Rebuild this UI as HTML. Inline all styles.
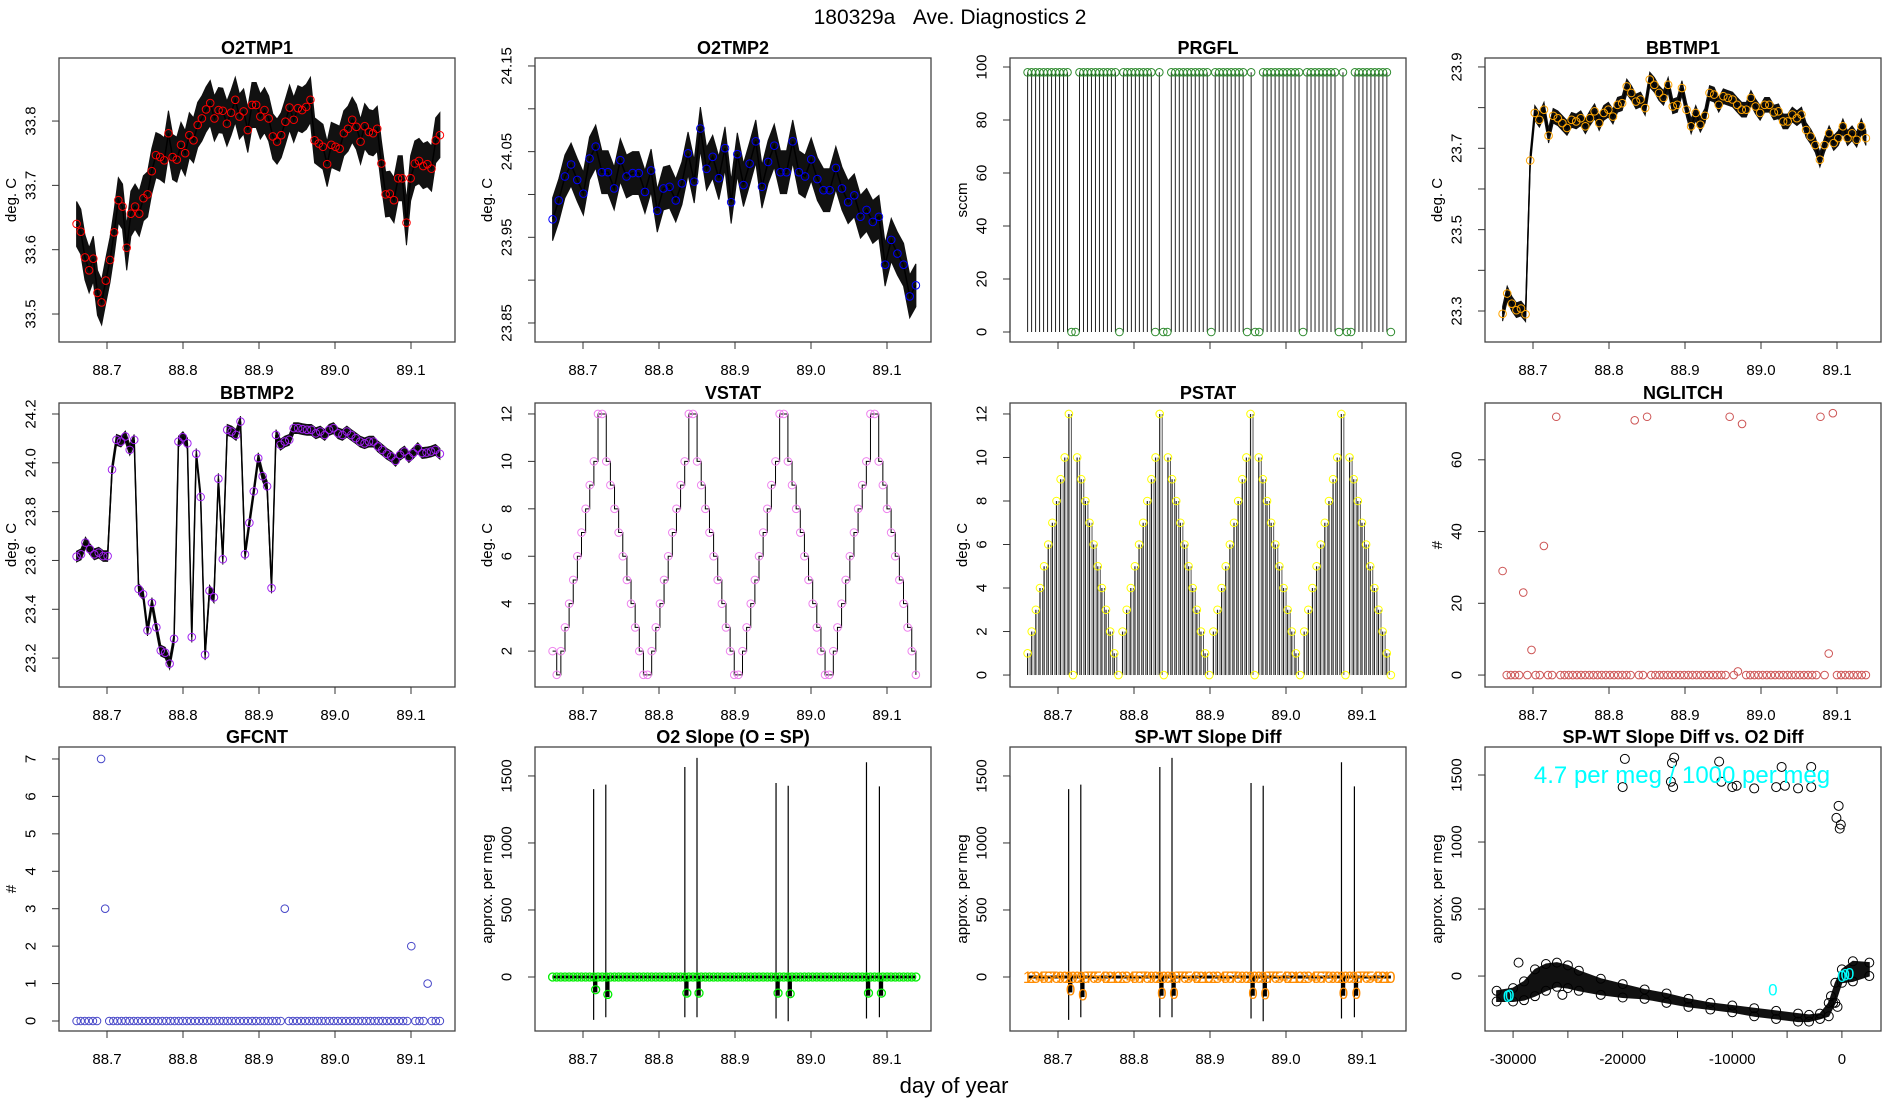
<!DOCTYPE html>
<html><head><meta charset="utf-8"><title>180329a Ave. Diagnostics 2</title>
<style>
html,body{margin:0;padding:0;background:#fff;}
svg{display:block;font-family:"Liberation Sans",Arial,sans-serif;}
</style></head>
<body>
<svg id="chart" xmlns="http://www.w3.org/2000/svg" width="1900" height="1100" viewBox="0 0 1900 1100">
<rect x="0" y="0" width="1900" height="1100" fill="#fff"/>
<text x="950" y="24" text-anchor="middle" font-size="21" style="white-space:pre">180329a&#160;&#160;&#160;Ave. Diagnostics 2</text>
<text x="954" y="1093" text-anchor="middle" font-size="22">day of year</text>
</svg>
<script>
// ---------- data ----------
const timeStart = 88.660;
const timeEnd = 89.138;
const timeTicks = [88.7, 88.8, 88.9, 89.0, 89.1];
const timeTickLabels = ["88.7", "88.8", "88.9", "89.0", "89.1"];

const o2tmp1 = [33.640,33.628,33.588,33.568,33.586,33.533,33.518,33.552,33.584,33.627,33.677,33.667,33.603,33.656,33.667,33.656,33.680,33.686,33.722,33.747,33.744,33.739,33.781,33.744,33.740,33.763,33.750,33.778,33.770,33.794,33.804,33.818,33.828,33.804,33.817,33.816,33.796,33.813,33.833,33.807,33.815,33.786,33.825,33.825,33.807,33.817,33.804,33.776,33.768,33.778,33.799,33.821,33.802,33.820,33.817,33.822,33.833,33.770,33.765,33.760,33.733,33.763,33.760,33.757,33.781,33.788,33.802,33.791,33.768,33.792,33.783,33.781,33.788,33.734,33.686,33.687,33.677,33.711,33.711,33.642,33.711,33.734,33.738,33.730,33.733,33.726,33.770,33.778];
const o2tmp2 = [23.971,23.993,24.021,24.035,24.017,24.001,24.042,24.056,24.026,24.026,24.007,24.040,24.021,24.025,24.025,24.003,24.028,23.981,24.007,24.009,23.993,24.013,24.048,24.015,24.077,24.030,24.044,24.019,24.054,23.991,24.047,24.011,24.036,24.062,24.009,24.038,24.057,24.026,24.026,24.062,24.026,24.021,24.041,24.018,24.005,24.005,24.031,24.007,23.991,23.999,23.974,23.982,23.968,23.974,23.918,23.947,23.931,23.918,23.881,23.894];
const prgfl = [98,98,98,98,98,98,98,98,98,98,98,0,0,98,98,98,98,98,98,98,98,98,98,0,98,98,98,98,98,98,98,98,0,98,0,0,98,98,98,98,98,98,98,98,98,98,0,98,98,98,98,98,98,98,98,0,98,0,0,98,98,98,98,98,98,98,98,98,98,0,98,98,98,98,98,98,98,98,0,98,0,0,98,98,98,98,98,98,98,98,98,0];
const bbtmp1 = [23.293,23.343,23.318,23.302,23.306,23.292,23.670,23.787,23.770,23.795,23.731,23.780,23.774,23.762,23.750,23.770,23.766,23.774,23.754,23.774,23.791,23.762,23.787,23.795,23.778,23.807,23.811,23.852,23.836,23.815,23.820,23.799,23.869,23.856,23.836,23.824,23.856,23.803,23.807,23.848,23.795,23.754,23.787,23.758,23.780,23.836,23.832,23.807,23.828,23.824,23.820,23.807,23.795,23.795,23.824,23.803,23.787,23.807,23.807,23.788,23.791,23.766,23.766,23.783,23.774,23.783,23.745,23.729,23.708,23.672,23.708,23.737,23.713,23.725,23.754,23.725,23.737,23.721,23.754,23.725];
const bbtmp2 = [23.616,23.625,23.673,23.646,23.625,23.632,23.618,23.618,23.972,24.094,24.087,24.108,24.053,24.094,23.483,23.462,23.313,23.426,23.326,23.231,23.222,23.177,23.279,24.087,24.105,24.080,23.286,24.037,23.860,23.214,23.476,23.449,23.935,23.605,24.135,24.128,24.114,24.169,23.625,23.754,23.883,24.019,23.945,23.904,23.487,24.114,24.074,24.087,24.094,24.142,24.142,24.138,24.135,24.135,24.121,24.128,24.114,24.135,24.142,24.121,24.114,24.128,24.114,24.101,24.087,24.080,24.087,24.087,24.067,24.053,24.037,24.026,24.008,24.033,24.046,24.023,24.040,24.060,24.040,24.042,24.046,24.053,24.037];
const vstat = [2,1,2,3,4,5,6,7,8,9,10,12,12,10,9,8,7,6,5,4,3,2,1,
 1,2,3,4,5,6,7,8,9,10,12,12,10,9,8,7,6,5,4,3,2,1,
 1,2,3,4,5,6,7,8,9,10,12,12,10,9,8,7,6,5,4,3,2,1,
 1,2,3,4,5,6,7,8,9,10,12,12,10,9,8,7,6,5,4,3,2,1];
const pstat = [1,2,3,4,5,6,7,8,9,10,12,0,10,9,8,7,6,5,4,3,2,1,0,
 2,3,4,5,6,7,8,9,10,12,0,10,9,8,7,6,5,4,3,2,1,0,
 2,3,4,5,6,7,8,9,10,12,0,10,9,8,7,6,5,4,3,2,1,0,
 2,3,4,5,6,7,8,9,10,12,0,10,9,8,7,6,5,4,3,2,1,0];
const nglitch = [29,0,0,0,0,23,0,7,0,0,36,0,0,72,0,0,0,0,0,0,0,0,0,0,0,0,0,0,0,0,0,0,71,0,0,72,0,0,0,0,0,0,0,0,0,0,0,0,0,0,0,0,0,0,0,72,0,1,70,0,0,0,0,0,0,0,0,0,0,0,0,0,0,0,0,0,0,72,0,6,73,0,0,0,0,0,0,0,0];
const gfcnt = [0,0,0,0,0,0,7,3,0,0,0,0,0,0,0,0,0,0,0,0,0,0,0,0,0,0,0,0,0,0,0,0,0,0,0,0,0,0,0,0,0,0,0,0,0,0,0,0,0,0,0,3,0,0,0,0,0,0,0,0,0,0,0,0,0,0,0,0,0,0,0,0,0,0,0,0,0,0,0,0,0,0,2,0,0,0,1,0,0,0];
const spikeTimes = [88.714,88.730,88.834,88.850,88.954,88.970,89.073,89.090];
const spikeHigh = [1402,1435,1567,1635,1447,1427,1602,1422];
const spikeLow = [-320,-300,-300,-300,-310,-330,-310,-300];
const dipValues = [-95,-130,-120,-120,-120,-125,-120,-120];
const slopeBase = 0;
const scatterBandX = [-31500,-30000,-29000,-28000,-27000,-26000,-25000,-24000,-22000,-20000,-18000,-16000,-14000,-12000,-10000,-8000,-6000,-4000,-3000,-2000,-1200,-600,0,1000,2500];
const scatterBandUpper = [-110,-90,-40,50,90,100,80,40,-20,-60,-100,-130,-170,-200,-220,-240,-260,-280,-290,-280,-200,-50,50,110,100];
const scatterBandLower = [-190,-190,-180,-150,-110,-80,-90,-110,-140,-160,-170,-200,-230,-250,-270,-300,-320,-340,-340,-320,-300,-200,-50,-40,0];
const outlierX = [-20000,-19800,-15500,-15300,-15600,-15400,-11200,-11000,-10000,-9600,-8000,-6000,-5500,-5200,-4000,-2800,-2800,-500,-300,-200,-100,-29500,-25500,-1000,-800,-400];
const outlierY = [1410,1620,1590,1630,1450,1410,1600,1450,1410,1420,1400,1410,1560,1420,1400,1560,1410,1180,1270,1100,1130,100,-140,-150,-200,-230];
const cyanX = [-30500,-30300,-6300,0,300,700];
const cyanY = [-150,-140,-100,0,10,20];

// ---------- drawing ----------
const NS = "http://www.w3.org/2000/svg";
const svg = document.getElementById("chart");
function el(tag, attrs, parent) {
  const e = document.createElementNS(NS, tag);
  for (const k in attrs) e.setAttribute(k, attrs[k]);
  (parent || svg).appendChild(e);
  return e;
}
const colLeft = [59, 535, 1010, 1485];
const rowTop = [58, 403, 747];
const W = 396, H = 284;

function makePanel(key, title, col, row, yLo, yHi, yTicks, yLabelShow, ylab, xLo, xHi) {
  const left = colLeft[col], top = rowTop[row], bottom = top + H, right = left + W;
  const g = el("g", {});
  
  
  const x = xLo === undefined ? (t => left + 48 + (t - 88.7) * 760) : (v => left + (v - xLo) / (xHi - xLo) * W);
  const y = v => bottom - (v - yLo) / (yHi - yLo) * H;
  const t = el("text", {x: left + W / 2, y: top - 4, "text-anchor": "middle", "font-size": 18, "font-weight": "bold"}, g);
  t.textContent = title;
  
  
  const box = el("rect", {x: left, y: top, width: W, height: H, fill: "none", stroke: "#444", "stroke-width": 1.3}, g);
  
  
  const ya = el("g", {}, g);
  
  
  el("line", {x1: left, x2: left, y1: y(yTicks[0]), y2: y(yTicks[yTicks.length - 1]), stroke: "#333"}, ya);
  yTicks.forEach((v, i) => {
    el("line", {x1: left - 7, x2: left, y1: y(v), y2: y(v), stroke: "#333"}, ya);
    if (yLabelShow[i]) {
      const lb = el("text", {x: 0, y: 0, "text-anchor": "middle", "font-size": 15, transform: `translate(${left - 23.5},${y(v)}) rotate(-90)`}, ya);
      lb.textContent = yLabelShow[i];
      
      
    }
  });
  const yl = el("text", {x: 0, y: 0, "text-anchor": "middle", "font-size": 15, transform: `translate(${left - 43},${top + H / 2}) rotate(-90)`}, g);
  yl.textContent = ylab;
  
  
  return {g, x, y, left, top, bottom, right};
}
function timeAxis(p, key, ticks, labels) {
  const xa = el("g", {}, p.g);
  
  
  el("line", {x1: p.x(ticks[0]), x2: p.x(ticks[ticks.length - 1]), y1: p.bottom, y2: p.bottom, stroke: "#333"}, xa);
  ticks.forEach((v, i) => {
    el("line", {x1: p.x(v), x2: p.x(v), y1: p.bottom, y2: p.bottom + 7, stroke: "#333"}, xa);
    if (labels[i]) {
      const lb = el("text", {x: p.x(v), y: p.bottom + 33, "text-anchor": "middle", "font-size": 15}, xa);
      lb.textContent = labels[i];
      
      
    }
  });
}
function tAt(i, n) { return timeStart + i * (timeEnd - timeStart) / (n - 1); }
function circles(p, key, vals, color, r) {
  const cg = el("g", {}, p.g);
  
  
  vals.forEach((v, i) => {
    const c = el("circle", {cx: p.x(tAt(i, vals.length)), cy: p.y(v), r: r || 3.8, fill: "none", stroke: color, "stroke-width": 1}, cg);
    
    
  });
}
function ribbon(p, key, vals, spread) {
  const up = vals.map((v, i) => p.x(tAt(i, vals.length)) + "," + p.y(v + spread));
  const lo = vals.map((v, i) => p.x(tAt(i, vals.length)) + "," + p.y(v - spread)).reverse();
  const pg = el("polygon", {points: up.concat(lo).join(" "), fill: "#111", stroke: "#111", "stroke-width": 1}, p.g);
  
  
  const pl = el("polyline", {points: vals.map((v, i) => p.x(tAt(i, vals.length)) + "," + p.y(v)).join(" "), fill: "none", stroke: "#000", "stroke-width": 1.5}, p.g);
  
  
}

// Panel 1 O2TMP1
let p = makePanel("o2tmp1", "O2TMP1", 0, 0, 33.4565, 33.898, [33.5, 33.6, 33.7, 33.8], ["33.5", "33.6", "33.7", "33.8"], "deg. C");
timeAxis(p, "o2tmp1", timeTicks, timeTickLabels);
ribbon(p, "o2tmp1", o2tmp1, 0.035);
circles(p, "o2tmp1", o2tmp1, "#ff0000");

// Panel 2 O2TMP2
p = makePanel("o2tmp2", "O2TMP2", 1, 0, 23.8278, 24.1593, [23.85, 23.90, 23.95, 24.00, 24.05, 24.10, 24.15], ["23.85", "", "23.95", "", "24.05", "", "24.15"], "deg. C");
timeAxis(p, "o2tmp2", timeTicks, timeTickLabels);
ribbon(p, "o2tmp2", o2tmp2, 0.025);
circles(p, "o2tmp2", o2tmp2, "#0000ff");

// Panel 3 PRGFL
p = makePanel("prgfl", "PRGFL", 2, 0, -3.77, 103.4, [0, 20, 40, 60, 80, 100], ["0", "20", "40", "60", "80", "100"], "sccm");
timeAxis(p, "prgfl", timeTicks, ["", "", "", "", ""]);
prgfl.forEach((v, i) => {
  if (v > 0) {
    const s = el("line", {x1: p.x(tAt(i, prgfl.length)), x2: p.x(tAt(i, prgfl.length)), y1: p.y(0), y2: p.y(v), stroke: "#222", "stroke-width": 1}, p.g);
    
    
  }
});
circles(p, "prgfl", prgfl, "#2e8b2e");

// Panel 4 BBTMP1
p = makePanel("bbtmp1", "BBTMP1", 3, 0, 23.2238, 23.922, [23.3, 23.4, 23.5, 23.6, 23.7, 23.8, 23.9], ["23.3", "", "23.5", "", "23.7", "", "23.9"], "deg. C");
timeAxis(p, "bbtmp1", timeTicks, timeTickLabels);
ribbon(p, "bbtmp1", bbtmp1, 0.018);
circles(p, "bbtmp1", bbtmp1, "#ffa500");

// Panel 5 BBTMP2
p = makePanel("bbtmp2", "BBTMP2", 0, 1, 23.0816, 24.245, [23.2, 23.4, 23.6, 23.8, 24.0, 24.2], ["23.2", "23.4", "23.6", "23.8", "24.0", "24.2"], "deg. C");
timeAxis(p, "bbtmp2", timeTicks, timeTickLabels);
ribbon(p, "bbtmp2", bbtmp2, 0.022);
circles(p, "bbtmp2", bbtmp2, "#a020f0");

// Panel 6 VSTAT
p = makePanel("vstat", "VSTAT", 1, 1, 0.487, 12.462, [2, 4, 6, 8, 10, 12], ["2", "4", "6", "8", "10", "12"], "deg. C");
timeAxis(p, "vstat", timeTicks, timeTickLabels);
{
  let pts = [];
  vstat.forEach((v, i) => {
    const xx = p.x(tAt(i, vstat.length));
    if (i > 0) pts.push(xx + "," + p.y(vstat[i - 1]));
    pts.push(xx + "," + p.y(v));
  });
  const pl = el("polyline", {points: pts.join(" "), fill: "none", stroke: "#000", "stroke-width": 1}, p.g);
  
  
}
circles(p, "vstat", vstat, "#ee82ee");

// Panel 7 PSTAT
p = makePanel("pstat", "PSTAT", 2, 1, -0.55, 12.504, [0, 2, 4, 6, 8, 10, 12], ["0", "2", "4", "6", "8", "10", "12"], "deg. C");
timeAxis(p, "pstat", timeTicks, timeTickLabels);
pstat.forEach((v, i) => {
  const xx = p.x(tAt(i, pstat.length));
  const s = el("line", {x1: xx, x2: xx, y1: p.y(0), y2: p.y(v), stroke: "#222", "stroke-width": 1.2}, p.g);
  
  
  const s2 = el("line", {x1: xx + 2.5, x2: xx + 2.5, y1: p.y(0), y2: p.y(v), stroke: "#555", "stroke-width": 1}, p.g);
  
  
});
circles(p, "pstat", pstat, "#ffff00");

// Panel 8 NGLITCH
p = makePanel("nglitch", "NGLITCH", 3, 1, -3.33, 75.83, [0, 20, 40, 60], ["0", "20", "40", "60"], "#");
timeAxis(p, "nglitch", timeTicks, timeTickLabels);
circles(p, "nglitch", nglitch, "#cd5555");

// Panel 9 GFCNT
p = makePanel("gfcnt", "GFCNT", 0, 2, -0.267, 7.32, [0, 1, 2, 3, 4, 5, 6, 7], ["0", "1", "2", "3", "4", "5", "6", "7"], "#");
timeAxis(p, "gfcnt", timeTicks, timeTickLabels);
circles(p, "gfcnt", gfcnt, "#4646c8");

// Panels 10 & 11
function slopePanel(key, title, col, ptColor, useText) {
  const q = makePanel(key, title, col, 2, -403, 1716, [0, 500, 1000, 1500], ["0", "500", "1000", "1500"], "approx. per meg");
  timeAxis(q, key, timeTicks, timeTickLabels);
  spikeTimes.forEach((t, i) => {
    const s = el("line", {x1: q.x(t), x2: q.x(t), y1: q.y(spikeLow[i]), y2: q.y(spikeHigh[i]), stroke: "#000", "stroke-width": 1.2}, q.g);
    
    
    const d = el("line", {x1: q.x(t) + 2, x2: q.x(t) + 2, y1: q.y(slopeBase), y2: q.y(dipValues[i] - 20), stroke: "#000", "stroke-width": 3.5}, q.g);
    
    
  });
  const base = el("line", {x1: q.x(timeStart), x2: q.x(timeEnd), y1: q.y(slopeBase), y2: q.y(slopeBase), stroke: "#000", "stroke-width": 3}, q.g);
  
  
  const n = pstat.length;
  for (let i = 0; i < n; i++) {
    const xx = q.x(tAt(i, n));
    if (useText) {
      const tx = el("text", {x: xx, y: q.y(slopeBase) + 6, "text-anchor": "middle", "font-size": 17, fill: ptColor}, q.g);
      tx.textContent = String(pstat[i] % 10);
      
      
    } else {
      const c = el("circle", {cx: xx, cy: q.y(slopeBase), r: 4, fill: "none", stroke: ptColor, "stroke-width": 1.3}, q.g);
      
      
    }
  }
  spikeTimes.forEach((t, i) => {
    if (useText) {
      const tx = el("text", {x: q.x(t) + 2, y: q.y(dipValues[i]) + 6, "text-anchor": "middle", "font-size": 17, fill: ptColor}, q.g);
      tx.textContent = "0";
      
      
    } else {
      const c = el("circle", {cx: q.x(t) + 2, cy: q.y(dipValues[i]), r: 4, fill: "none", stroke: ptColor, "stroke-width": 1.3}, q.g);
      
      
    }
  });
}
slopePanel("o2-slope", "O2 Slope (O = SP)", 1, "#00ee00", false);
slopePanel("spwt-slope-diff", "SP-WT Slope Diff", 2, "#ff8c00", true);

// Panel 12 scatter
p = makePanel("scatter", "SP-WT Slope Diff vs. O2 Diff", 3, 2, -410, 1709, [0, 500, 1000, 1500], ["0", "500", "1000", "1500"], "approx. per meg", -32561, 3567);
{
  const xt = [-30000, -25000, -20000, -15000, -10000, -5000, 0];
  timeAxis(p, "scatter", xt, ["-30000", "", "-20000", "", "-10000", "", "0"]);
  const up = scatterBandX.map((v, i) => p.x(v) + "," + p.y(scatterBandUpper[i]));
  const lo = scatterBandX.map((v, i) => p.x(v) + "," + p.y(scatterBandLower[i])).reverse();
  const band = el("polygon", {points: up.concat(lo).join(" "), fill: "#111", stroke: "#111", "stroke-width": 1}, p.g);
  
  
  scatterBandX.forEach((v, i) => {
    [scatterBandUpper[i], scatterBandLower[i]].forEach(w => {
      const c = el("circle", {cx: p.x(v), cy: p.y(w), r: 4.5, fill: "none", stroke: "#000", "stroke-width": 1}, p.g);
      
      
    });
  });
  outlierX.forEach((v, i) => {
    const c = el("circle", {cx: p.x(v), cy: p.y(outlierY[i]), r: 4.5, fill: "none", stroke: "#000", "stroke-width": 1}, p.g);
    
    
  });
  cyanX.forEach((v, i) => {
    const tx = el("text", {x: p.x(v), y: p.y(cyanY[i]) + 6, "text-anchor": "middle", "font-size": 17, fill: "#00ffff"}, p.g);
    tx.textContent = "0";
    
    
  });
  const ann = el("text", {x: 1682, y: 783, "text-anchor": "middle", "font-size": 24, fill: "#00ffff"}, p.g);
  ann.textContent = "4.7 per meg / 1000 per meg";
  
  
}
</script>
</body></html>
